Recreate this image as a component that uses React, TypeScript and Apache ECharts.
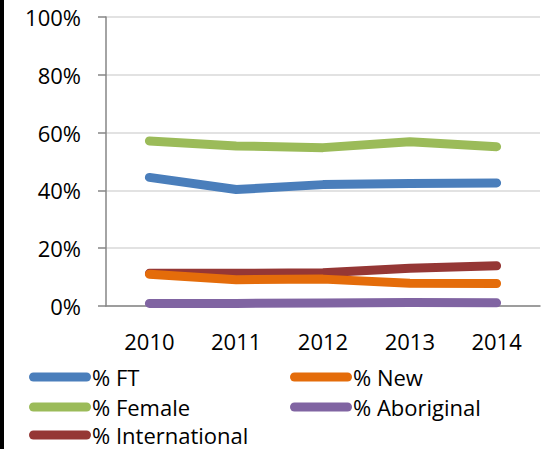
import React, { useEffect, useRef } from "react";
import * as echarts from "echarts";

const categories = ["2010", "2011", "2012", "2013", "2014"];
const yTicks = [0, 20, 40, 60, 80, 100];
const seriesNames = ["% FT", "% New", "% Female", "% Aboriginal", "% International"];
const ftValues = [44.5, 40.3, 42.0, 42.4, 42.6];
const newValues = [11.0, 9.1, 9.3, 7.9, 7.8];
const femaleValues = [57.1, 55.4, 54.8, 56.8, 55.1];
const aboriginalValues = [0.9, 0.9, 1.0, 1.2, 1.1];
const internationalValues = [11.3, 11.3, 11.5, 13.1, 13.9];

const colors = ["#4A7EBB", "#E46C0A", "#9BBB59", "#8064A2", "#953735"];
const FONT = "'Open Sans', 'Liberation Sans', sans-serif";

export default function App() {
  const ref = useRef<HTMLDivElement>(null);
  useEffect(() => {
    if (!ref.current) return;
    const chart = echarts.init(ref.current, undefined, { renderer: "svg" });
    const values = [ftValues, newValues, femaleValues, aboriginalValues, internationalValues];
    const capsule = "path://M4.5,0H57.5A4.5,4.5,0,0,1,57.5,9H4.5A4.5,4.5,0,0,1,4.5,0Z";
    const legendPos = [
      { left: 29, top: 366 },
      { left: 290, top: 366 },
      { left: 29, top: 396 },
      { left: 290, top: 396 },
      { left: 29, top: 424 },
    ];
    chart.setOption({
      animation: false,
      color: colors,
      textStyle: { fontFamily: FONT },
      grid: { left: 106, right: 13, top: 17, bottom: 143, containLabel: false },
      graphic: [
        { type: "rect", shape: { x: 0, y: 0, width: 4, height: 449 }, style: { fill: "#000" } },
      ],
      legend: seriesNames.map((n, i) => ({
        data: [n],
        left: legendPos[i].left,
        top: legendPos[i].top,
        orient: "horizontal",
        padding: 0,
        itemWidth: 62,
        itemHeight: 9,
        icon: capsule,
        selectedMode: false,
        textStyle: {
          fontFamily: FONT,
          fontSize: 22,
          color: "#000",
          lineHeight: 20,
          padding: [0, 0, 0, -4],
        },
      })),
      xAxis: {
        type: "category",
        data: categories,
        boundaryGap: true,
        axisLine: { show: true, lineStyle: { color: "#868686", width: 1.5 } },
        axisTick: { show: false },
        axisLabel: { color: "#000", fontSize: 22, fontFamily: FONT, margin: 24 },
        splitLine: { show: false },
      },
      yAxis: {
        type: "value",
        min: yTicks[0],
        max: yTicks[yTicks.length - 1],
        interval: 20,
        axisLine: { show: true, lineStyle: { color: "#868686", width: 1.5 } },
        axisTick: { show: true, length: 8, lineStyle: { color: "#868686", width: 1.5 } },
        axisLabel: {
          color: "#000",
          fontSize: 22,
          fontFamily: FONT,
          margin: 25,
          formatter: (v: number) => `${v}%`,
        },
        splitLine: { show: true, lineStyle: { color: "#D9D9D9", width: 1.5 } },
      },
      series: seriesNames.map((n, i) => ({
        name: n,
        type: "line",
        data: values[i],
        symbol: "none",
        color: colors[i],
        lineStyle: { width: 9, color: colors[i], cap: "round", join: "round" },
        itemStyle: { color: colors[i] },
        z: 10 - i,
      })),
    });
    return () => chart.dispose();
  }, []);
  return (
    <div
      ref={ref}
      style={{ position: "fixed", left: 0, top: 0, width: 553, height: 449, background: "#fff" }}
    />
  );
}
